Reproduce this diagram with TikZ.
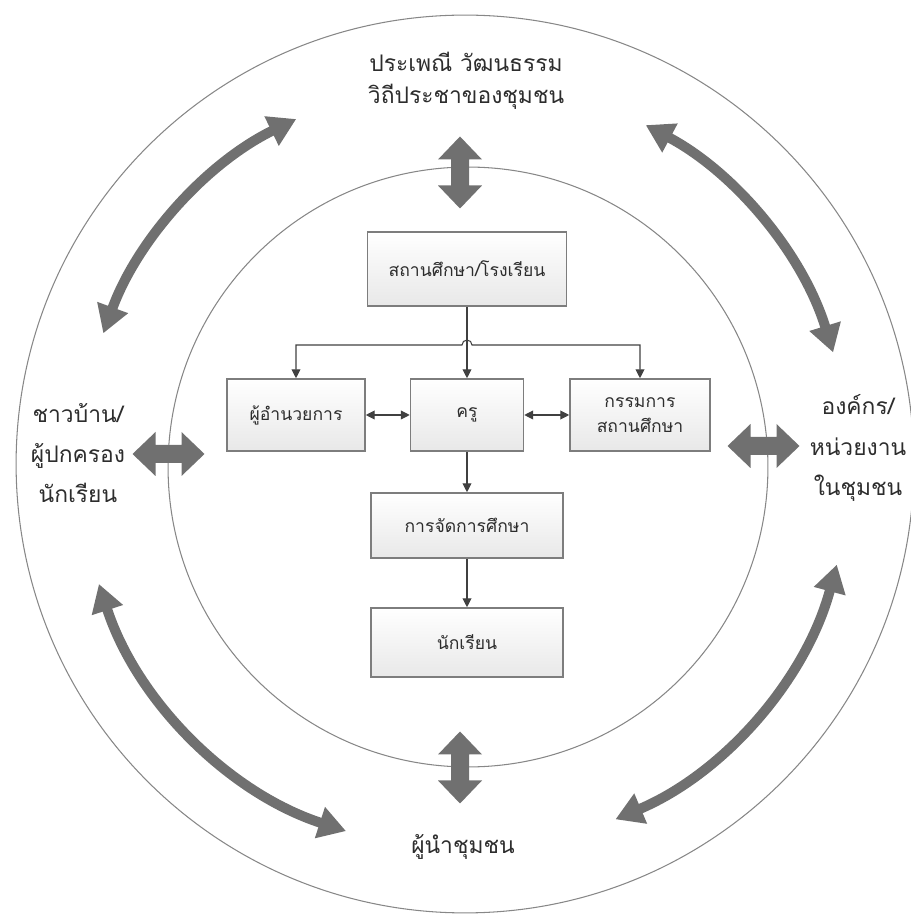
\documentclass[tikz,border=0pt]{standalone}
\usepackage{fontspec}
\newfontfamily\thai[Script=Thai]{Loma}
\usetikzlibrary{arrows.meta,calc}
\definecolor{arrowgray}{RGB}{112,112,112}
\definecolor{linegray}{RGB}{135,135,135}
\definecolor{boxline}{RGB}{125,125,125}
\definecolor{txtgray}{RGB}{45,45,45}
\begin{document}
\begin{tikzpicture}[x=0.02cm,y=0.02cm,
  box/.style={draw=boxline, line width=0.9pt, top color=white, bottom color=gray!18,
    text=txtgray, font=\thai\fontsize{10}{14}\selectfont, align=center, inner sep=0pt},
  ring/.style={draw=linegray, line width=0.6pt},
  outertext/.style={text=txtgray, font=\thai\fontsize{13}{18}\selectfont, align=center, inner sep=0pt},
  sidetext/.style={text=txtgray, font=\thai\fontsize{13}{23}\selectfont, align=center, inner sep=0pt},
  link/.style={draw=black!75, line width=0.6pt, -{Triangle[length=5pt,width=5pt]}},
  biglink/.style={draw=black!75, line width=0.6pt, {Triangle[length=5pt,width=5pt]}-{Triangle[length=5pt,width=5pt]}},
  curvearrow/.style={draw=arrowgray, line width=0.2cm,
    {Triangle[length=0.55cm,width=0.62cm]}-{Triangle[length=0.55cm,width=0.62cm]}},
  bigdar/.pic={\fill[arrowgray] (-36,0) -- (-13,22) -- (-13,9) -- (13,9) -- (13,22) -- (36,0)
     -- (13,-22) -- (13,-9) -- (-13,-9) -- (-13,-22) -- cycle;}
]
\useasboundingbox (0,0) rectangle (911,917);

% circles
\coordinate (outerc) at (465,453);
\coordinate (innerc) at (468,450);
\coordinate (arcc) at (465,452);
\draw[ring] (outerc) circle[radius=8.98cm];
\draw[ring] (innerc) circle[radius=6.0cm];

% boxes
\node[box, minimum width=3.98cm, minimum height=1.48cm] (school) at (467,648) {สถานศึกษา/โรงเรียน};
\node[box, minimum width=2.76cm, minimum height=1.44cm] (dir) at (296,502) {ผู้อำนวยการ};
\node[box, minimum width=2.26cm, minimum height=1.44cm] (teacher) at (467,502) {ครู};
\node[box, minimum width=2.80cm, minimum height=1.44cm] (comm) at (640,502) {กรรมการ\\สถานศึกษา};
\node[box, minimum width=3.84cm, minimum height=1.30cm] (mgmt) at (467,391.5) {การจัดการศึกษา};
\node[box, minimum width=3.84cm, minimum height=1.38cm] (stud) at (467,274.5) {นักเรียน};

% box connectors
\coordinate (bus) at (467,572);
\draw[link] (school.south) -- (teacher.north);
\draw[biglink] (dir.north) -- (dir.north |- bus) -- ([xshift=-0.1cm]bus)
   arc[start angle=180, end angle=0, radius=0.1cm] -- (comm.north |- bus) -- (comm.north);
\draw[biglink] (dir.east) -- (teacher.west);
\draw[biglink] (teacher.east) -- (comm.west);
\draw[link] (teacher.south) -- (mgmt.north);
\draw[link] (mgmt.south) -- (stud.north);

% outer labels
\node[outertext] (trad) at (466,836) {ประเพณี วัฒนธรรม\\วิถีประชาของชุมชน};
\node[sidetext] (villagers) at (78,464) {ชาวบ้าน/\\ผู้ปกครอง\\นักเรียน};
\node[sidetext] (orgs) at (858,469) {องค์กร/\\หน่วยงาน\\ในชุมชน};
\node[outertext] (leader) at (463,70) {ผู้นำชุมชน};

% thick straight double arrows
\pic[rotate=90] (topdar) at (460,744.5) {bigdar};
\pic[rotate=90] (botdar) at (460,149.5) {bigdar};
\pic (leftdar) at (168.5,463) {bigdar};
\pic (rightdar) at (763.5,471) {bigdar};

% curved double arrows
\draw[curvearrow] ($(arcc)+(116:7.7cm)$) arc[start angle=116, end angle=160, radius=7.7cm];
\draw[curvearrow] ($(arcc)+(17:7.7cm)$) arc[start angle=17, end angle=62, radius=7.7cm];
\draw[curvearrow] ($(arcc)+(198:7.7cm)$) arc[start angle=198, end angle=252, radius=7.7cm];
\draw[curvearrow] ($(arcc)+(293:7.7cm)$) arc[start angle=293, end angle=345, radius=7.7cm];
\end{tikzpicture}
\end{document}
